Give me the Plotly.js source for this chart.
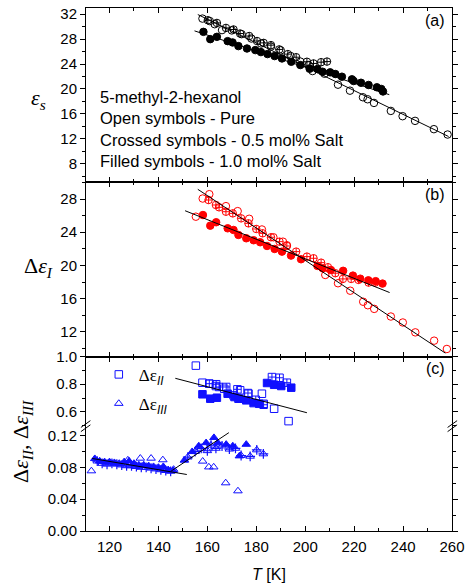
<!DOCTYPE html>
<html><head><meta charset="utf-8">
<script src="https://cdn.plot.ly/plotly-3.0.1.min.js"></script>
<style>html,body{margin:0;padding:0;background:#fff}#chart{width:466px;height:588px}</style>
</head><body><div id="chart"></div>
<script>
// ---------- Panel (a): static permittivity eps_s ----------
const T_a_pure = [158,161,163,166,170,174,178,182,186,190,194,198,201.4,203,207.9,213.4,218.3,223.6,225.5,228.1,235,239.8,244.9,252.6,258.2];
const es_pure  = [31.3,30.9,30.4,29.45,29.4,28.8,28.1,27.3,26.8,26.2,25.3,24.4,23.84,22.88,22.45,20.69,19.73,18.67,18.35,17.76,16.48,15.63,14.88,13.55,12.69];
const T_a_x05  = [160.2,163.9,167.6,170.7,173.4,177.1,180.3,183.0,186.0,189.4,192.9,196.3,200.7,203.4,206.5,208.9];
const es_x05   = [31.04,30.6,29.8,29.55,28.9,28.5,27.7,27.4,27.04,26.35,25.6,25.1,24.37,24.1,24.3,24.4];
const T_a_x10  = [158.4,161.2,163.9,168.3,170.3,172.7,176.2,179.6,181.9,184.6,187.5,190.5,194.3,198.0,201.8,205.0,207.1,210.2,212.3,215.0,219.1,219.8,222.8,225.9,229.3,231.1,231.8];
const es_x10   = [29.17,28.0,28.37,27.68,27.47,26.88,26.5,26.24,25.92,25.6,25.28,24.9,24.37,23.84,23.25,23.2,22.77,22.67,22.4,21.97,21.55,21.28,21.0,20.64,20.27,20.0,19.6];
const fitA_pure_T = [156.1,258.6], fitA_pure_v = [31.95,12.37];
const fitA_x10_T  = [154.75,234.35], fitA_x10_v = [29.33,19.09];

// ---------- Panel (b): delta eps_I ----------
const T_b_pure = [155.3,158.1,160.8,167.6,172.4,177.1,182.3,187.0,190.9,192.5,208.2,213.4,218.4,223.7,225.6,228.2,235.0,239.9,245.0,252.7,257.9];
const dI_pure  = [25.87,28.06,28.58,27.14,26.54,25.62,24.33,23.39,22.86,22.43,18.85,17.85,16.95,15.62,15.2,14.76,13.84,13.12,11.93,10.93,9.93];
const T_b_x05  = [160.5,163.5,164.8,167.6,170.4,173.8,176.8,180.0,182.6,186.0,189.5,192.5,196.3,200.7,203.4,206.5,209.3,212.3,215.4,218.8,221.8,225.9,228.6];
const dI_x05   = [27.88,27.28,27.0,26.47,26.27,25.67,25.07,24.39,23.87,23.39,22.86,22.34,21.66,21.06,20.86,20.33,19.78,19.06,18.37,18.37,18.25,17.93,17.93];
const T_b_x10  = [158.2,161.2,163.6,168.3,170.7,172.7,175.9,178.9,181.6,184.4,187.5,190.5,194.2,198.3,205.0,207.1,210.5,215.5,219.5,222.5,225.8,228.8,231.6];
const dI_x10   = [26.07,24.79,25.2,24.47,24.27,23.67,23.27,23.03,22.79,22.34,21.98,21.66,21.18,20.74,19.94,19.66,19.45,19.35,18.77,18.4,18.2,18.1,17.81];
const fitB_pure_T = [156.1,257.3], fitB_pure_v = [29.17,9.43];
const fitB_x10_T  = [150.9,234.5], fitB_x10_v = [26.59,16.73];

// ---------- Panel (c): delta eps_II (squares) ----------
const T_II_pure = [155.3,158.0,160.8,163.5,166.9,170.7,173.4,176.8,182.3,183.0,187.3,193.2];
const dII_pure  = [0.935,0.811,0.804,0.787,0.767,0.719,0.756,0.731,0.731,0.658,0.622,0.532];
const T_II_x05  = [160.8,163.6,164.8,167.7,172.3,172.7,176.6,179.8,183.0,186.4,189.5,192.5];
const dII_x05   = [0.804,0.80,0.78,0.78,0.763,0.695,0.736,0.687,0.651,0.852,0.847,0.811];
const T_II_x10  = [158.0,161.2,163.9,168.3,171.1,173.0,175.9,178.9,181.2,184.4,187.3,190.2,194.3];
const dII_x10   = [0.727,0.695,0.702,0.731,0.707,0.695,0.683,0.663,0.658,0.809,0.796,0.787,0.775];
const fitII_T = [146.9,200.7], fitII_v = [0.843,0.593];

// ---------- Panel (c): delta eps_III (triangles) ----------
const T_III_pure = [112.6,127.5,132.6,137.0,141.8,146.2,158.1,160.6,162.6,167.5,172.5];
const dIII_pure  = [0.0756,0.0893,0.0915,0.0915,0.0895,0.0775,0.0878,0.0805,0.0805,0.0605,0.0504];
const T_III_x05  = [115,117,119,121,123,125,127,129,131,133,135,137,139,141,143,145,152,155,157.5,160,161.5,163.5,166,169,171.5,173.8,177.5,180.2,182.9];
const dIII_x05   = [0.088,0.085,0.084,0.085,0.084,0.083,0.082,0.082,0.081,0.080,0.080,0.079,0.078,0.077,0.076,0.075,0.093,0.100,0.104,0.101,0.108,0.104,0.107,0.103,0.104,0.095,0.094,0.102,0.097];
const T_III_x10  = [114,116,118,120,122,124,126,128,130,132,134,136,138,140,142,144,146,150.6,153.8,156.5,159.5,162.7,164.3,167.7,170.4,173.1,175.9];
const dIII_x10   = [0.091,0.088,0.087,0.087,0.086,0.085,0.087,0.088,0.085,0.083,0.083,0.082,0.081,0.080,0.081,0.077,0.076,0.089,0.0998,0.107,0.111,0.1175,0.111,0.109,0.107,0.0944,0.109];
const fitIII_lo_T = [112.9,151.6], fitIII_lo_v = [0.0913,0.0711];
const fitIII_hi_T = [145.2,168.8], fitIII_hi_v = [0.0754,0.1238];

const xTicks = [120,140,160,180,200,220,240,260];

const RED='#ff0000', BLUE='#1010ff';
const MS=7.5;

function pts(x,y,xa,ya,color,symbol,opts){
  return Object.assign({type:'scatter',mode:'markers',x:x,y:y,xaxis:xa,yaxis:ya,showlegend:false,hoverinfo:'skip',
    marker:{color:color,symbol:symbol,size:MS,line:{color:color,width:1}}},opts||{});
}
function fit(x,y,xa,ya){
  return {type:'scatter',mode:'lines',x:x,y:y,xaxis:xa,yaxis:ya,showlegend:false,hoverinfo:'skip',line:{color:'#000',width:1}};
}

const traces = [
  // (a)
  pts(T_a_pure,es_pure,'x4','y','#000','circle-open'),
  pts(T_a_x05,es_x05,'x4','y','#000','circle-cross-open'),
  pts(T_a_x10,es_x10,'x4','y','#000','circle'),
  fit(fitA_pure_T,fitA_pure_v,'x4','y'),
  fit(fitA_x10_T,fitA_x10_v,'x4','y'),
  // (b)
  pts(T_b_pure,dI_pure,'x2','y2',RED,'circle-open'),
  pts(T_b_x05,dI_x05,'x2','y2',RED,'circle-cross-open'),
  pts(T_b_x10,dI_x10,'x2','y2',RED,'circle'),
  fit(fitB_pure_T,fitB_pure_v,'x2','y2'),
  fit(fitB_x10_T,fitB_x10_v,'x2','y2'),
  // (c) upper: squares
  pts(T_II_pure,dII_pure,'x3','y3',BLUE,'square-open',{name:'<span style="font-family:Liberation Serif">Δε</span><sub><i>II</i></sub>',showlegend:true,legendgroup:'g1'}),
  pts(T_II_x05,dII_x05,'x3','y3',BLUE,'square-cross-open'),
  pts(T_II_x10,dII_x10,'x3','y3',BLUE,'square'),
  fit(fitII_T,fitII_v,'x3','y3'),
  // (c) lower: triangles
  pts(T_III_pure,dIII_pure,'x','y4',BLUE,'triangle-up-open',{name:'<span style="font-family:Liberation Serif">Δε</span><sub><i>III</i></sub>',showlegend:true,legendgroup:'g2'}),
  pts(T_III_x05,dIII_x05,'x','y4',BLUE,'triangle-up-open'),
  pts(T_III_x05,dIII_x05,'x','y4',BLUE,'cross-thin-open',{marker:{color:BLUE,symbol:'cross-thin-open',size:7,line:{color:BLUE,width:1.2}}}),
  pts(T_III_x10,dIII_x10,'x','y4',BLUE,'triangle-up'),
  fit(fitIII_lo_T,fitIII_lo_v,'x','y4'),
  fit(fitIII_hi_T,fitIII_hi_v,'x','y4')
];

const FONT='Liberation Sans, Arial, sans-serif';
const tickFont={family:FONT,size:15,color:'#000'};
const XR=[110.4,260];
function xax(anchor,extra){
  return Object.assign({anchor:anchor,range:XR,showline:true,linecolor:'#000',linewidth:1,mirror:'allticks',
    ticks:'inside',ticklen:5,tickcolor:'#000',tickvals:xTicks,showticklabels:false,showgrid:false,zeroline:false,
    minor:{dtick:10,tick0:110,ticks:'inside',ticklen:3,tickcolor:'#000',showgrid:false},tickfont:tickFont,fixedrange:true},extra||{});
}
function yax(domain,range,dtick,minorDtick,extra){
  return Object.assign({domain:domain,range:range,dtick:dtick,showline:true,linecolor:'#000',linewidth:1,mirror:'allticks',
    ticks:'outside',ticklen:5,tickcolor:'#000',showgrid:false,zeroline:false,tickfont:tickFont,
    minor:{dtick:minorDtick,ticks:'outside',ticklen:3,tickcolor:'#000',showgrid:false},fixedrange:true},extra||{});
}

const layout = {
  width:466,height:588,margin:{l:86,r:14,t:8,b:57},
  paper_bgcolor:'#fff',plot_bgcolor:'rgba(0,0,0,0)',
  font:{family:FONT,size:15,color:'#000'},
  showlegend:true,
  legend:{x:0.035,y:0.333,xanchor:'left',yanchor:'top',bgcolor:'rgba(0,0,0,0)',borderwidth:0,
    font:{family:FONT,size:17,color:'#000'},itemwidth:30,traceorder:'grouped',tracegroupgap:4},
  xaxis: xax('y4',{mirror:false,showticklabels:true,ticklabelstandoff:2,title:{text:'<i>T</i> [K]',font:{family:FONT,size:16},standoff:14}}),
  xaxis2: xax('y2',{matches:'x'}),
  xaxis3: xax('y3',{matches:'x',side:'top',mirror:false}),
  xaxis4: xax('y',{matches:'x'}),
  yaxis: yax([0.6665,1],[5,33],4,2,{tickvals:[8,12,16,20,24,28,32]}),
  yaxis2: yax([0.3333,0.6665],[9,30],4,2,{tickvals:[12,16,20,24,28]}),
  yaxis3: yax([0.199,0.3333],[0.49,1.0],0.2,0.1,{tickvals:[0.6,0.8,1.0],ticktext:['0.6','0.8','1.0'],minor:{tickvals:[0.5,0.7,0.9],ticks:'outside',ticklen:3,tickcolor:'#000'}}),
  yaxis4: yax([0,0.199],[0,0.131],0.04,0.02,{tickvals:[0,0.04,0.08,0.12],ticktext:['0.00','0.04','0.08','0.12']}),
  annotations:[
    {xref:'paper',yref:'paper',x:0.985,y:0.997,xanchor:'right',yanchor:'top',text:'(a)',showarrow:false,font:{family:FONT,size:16}},
    {xref:'paper',yref:'paper',x:0.985,y:0.664,xanchor:'right',yanchor:'top',text:'(b)',showarrow:false,font:{family:FONT,size:16}},
    {xref:'paper',yref:'paper',x:0.985,y:0.330,xanchor:'right',yanchor:'top',text:'(c)',showarrow:false,font:{family:FONT,size:16}},
    {xref:'paper',yref:'paper',x:0.032,y:0.768,xanchor:'left',yanchor:'middle',align:'left',showarrow:false,
      font:{family:FONT,size:16.5},
      text:'5-methyl-2-hexanol<br>Open symbols - Pure<br>Crossed symbols - 0.5 mol% Salt<br>Filled symbols - 1.0 mol% Salt'},
    {xref:'paper',yref:'paper',x:-0.13,y:0.826,xanchor:'center',yanchor:'middle',showarrow:false,
      font:{family:'Liberation Serif, serif',size:22},text:'<i>ε</i><sub><i>s</i></sub>'},
    {xref:'paper',yref:'paper',x:-0.13,y:0.505,xanchor:'center',yanchor:'middle',showarrow:false,
      font:{family:'Liberation Serif, serif',size:22},text:'Δ<i>ε</i><sub><i>I</i></sub>'},
    {xref:'paper',yref:'paper',x:-0.175,y:0.172,xanchor:'center',yanchor:'middle',showarrow:false,textangle:-90,
      font:{family:'Liberation Serif, serif',size:22},text:'Δ<i>ε</i><sub><i>II</i></sub>, Δ<i>ε</i><sub><i>III</i></sub>'}
  ],
  shapes:[
    {type:'line',xref:'paper',yref:'paper',x0:-0.014,x1:0.012,y0:0.190,y1:0.203,line:{color:'#000',width:1}},
    {type:'line',xref:'paper',yref:'paper',x0:-0.014,x1:0.012,y0:0.198,y1:0.211,line:{color:'#000',width:1}},
    {type:'line',xref:'paper',yref:'paper',x0:0.988,x1:1.014,y0:0.190,y1:0.203,line:{color:'#000',width:1}},
    {type:'line',xref:'paper',yref:'paper',x0:0.988,x1:1.014,y0:0.198,y1:0.211,line:{color:'#000',width:1}}
  ]
};

Plotly.newPlot('chart',traces,layout,{staticPlot:true,displayModeBar:false});
</script></body></html>
